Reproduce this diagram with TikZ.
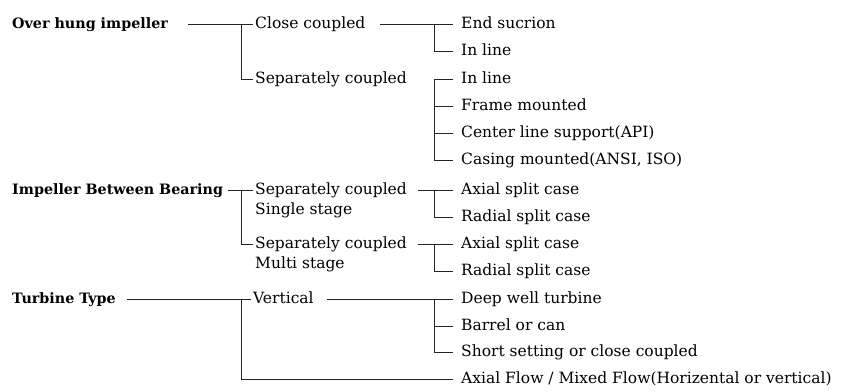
\documentclass[tikz,border=0pt]{standalone}
\usepackage{fontspec}
\setmainfont{DejaVu Serif}
\begin{document}
\begin{tikzpicture}[x=1pt,y=-1pt,
  lbl/.style={anchor=west,inner sep=0pt,text height=11.5pt,text depth=3.3pt,font=\fontsize{15.5}{18}\selectfont},
  head/.style={lbl,font=\fontsize{14.3}{17}\selectfont\bfseries},
  ln/.style={line width=0.9pt,black!85}]
\useasboundingbox (0,0) rectangle (850,391);
% x positions of trunks and line starts
\coordinate (ta) at (241,0);
\coordinate (tb) at (434,0);
\coordinate (xa) at (188,0);
\coordinate (xb) at (380,0);
\coordinate (xc) at (228,0);
\coordinate (xd) at (418,0);
\coordinate (xe) at (127,0);
\coordinate (xf) at (327,0);
% nodes
\node[head] (oh) at (12,24) {Over hung impeller};
\node[lbl] (cc) at (255,24) {Close coupled};
\node[lbl] (sc1) at (255,79) {Separately coupled};
\node[lbl] (es) at (461,24) {End sucrion};
\node[lbl] (il1) at (461,51) {In line};
\node[lbl] (il2) at (461,79) {In line};
\node[lbl] (fm) at (461,106) {Frame mounted};
\node[lbl] (cl) at (461,133) {Center line support(API)};
\node[lbl] (cm) at (461,160) {Casing mounted(ANSI, ISO)};
\node[head] (ibb) at (12,190) {Impeller Between Bearing};
\node[lbl] (sc2) at (255,190) {Separately coupled};
\node[lbl] (ss) at (255,210) {Single stage};
\node[lbl] (sc3) at (255,244) {Separately coupled};
\node[lbl] (ms) at (255,264) {Multi stage};
\node[lbl] (as1) at (461,190) {Axial split case};
\node[lbl] (rs1) at (461,217) {Radial split case};
\node[lbl] (as2) at (461,244) {Axial split case};
\node[lbl] (rs2) at (461,271) {Radial split case};
\node[head] (tt) at (12,299) {Turbine Type};
\node[lbl] (vt) at (253,299) {Vertical};
\node[lbl] (dw) at (461,299) {Deep well turbine};
\node[lbl] (bc) at (461,326) {Barrel or can};
\node[lbl] (sh) at (461,352) {Short setting or close coupled};
\node[lbl] (af) at (461,379) {Axial Flow / Mixed Flow(Horizental or vertical)};
% over hung impeller
\draw[ln] (oh -| xa) -- ([xshift=-2pt]cc.west);
\draw[ln] (ta |- cc) -- (ta |- sc1) -- ([xshift=-2pt]sc1.west);
\draw[ln] (cc -| xb) -- ([xshift=-8pt]es.west);
\draw[ln] (tb |- es) -- (tb |- il1) -- ([xshift=-8pt]il1.west);
\draw[ln] ([xshift=-8pt]il2.west) -- (tb |- il2) -- (tb |- cm) -- ([xshift=-8pt]cm.west);
\draw[ln] (tb |- fm) -- ([xshift=-8pt]fm.west);
\draw[ln] (tb |- cl) -- ([xshift=-8pt]cl.west);
% impeller between bearing
\draw[ln] (ibb -| xc) -- ([xshift=-2pt]sc2.west);
\draw[ln] (ta |- sc2) -- (ta |- sc3) -- ([xshift=-2pt]sc3.west);
\draw[ln] (sc2 -| xd) -- ([xshift=-8pt]as1.west);
\draw[ln] (tb |- as1) -- (tb |- rs1) -- ([xshift=-8pt]rs1.west);
\draw[ln] (sc3 -| xd) -- ([xshift=-8pt]as2.west);
\draw[ln] (tb |- as2) -- (tb |- rs2) -- ([xshift=-8pt]rs2.west);
% turbine type
\draw[ln] (tt -| xe) -- ([xshift=-2pt]vt.west);
\draw[ln] (ta |- vt) -- (ta |- af) -- ([xshift=-8pt]af.west);
\draw[ln] (vt -| xf) -- ([xshift=-8pt]dw.west);
\draw[ln] (tb |- dw) -- (tb |- sh) -- ([xshift=-8pt]sh.west);
\draw[ln] (tb |- bc) -- ([xshift=-8pt]bc.west);
\end{tikzpicture}
\end{document}
